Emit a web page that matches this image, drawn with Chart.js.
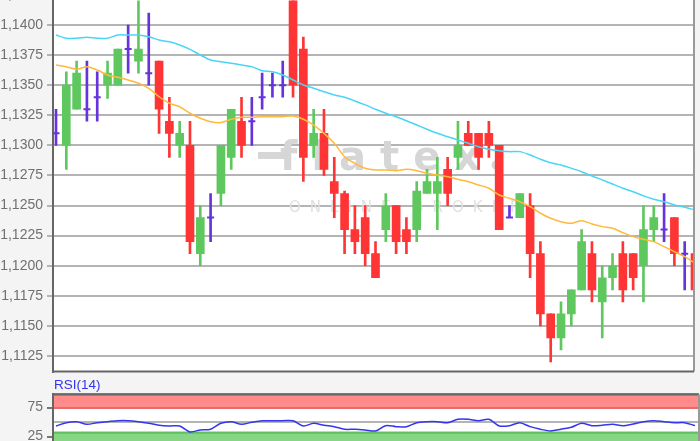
<!DOCTYPE html>
<html>
<head>
<meta charset="utf-8">
<script src="https://cdn.jsdelivr.net/npm/chart.js@4.4.1/dist/chart.umd.min.js"></script>
<style>
  html, body { margin: 0; padding: 0; }
  body { width: 700px; height: 441px; overflow: hidden; position: relative; background: #f4f4f4; font-family: "Liberation Sans", Arial, sans-serif; }
  #mainBox { position: absolute; left: 0; top: -40px; width: 700px; height: 424px; }
  #rsiBox { position: absolute; left: 0; top: 382px; width: 700px; height: 120px; }
  #rsiLabel { position: absolute; left: 54px; top: 377px; font-size: 13.5px; color: #3434ee; line-height: 16px; }
</style>
</head>
<body>
<div id="mainBox"><canvas id="mainChart"></canvas></div>
<div id="rsiLabel">RSI(14)</div>
<div id="rsiBox"><canvas id="rsiChart"></canvas></div>
<script>
// candles, oldest first
const opens  = [1.1310,1.1300,1.1330,1.1330,1.1340,1.1350,1.1350,1.1380,1.1370,1.1360,
                1.1370,1.1320,1.1300,1.1300,1.1210,1.1240,1.1260,1.1290,1.1320,1.1320,
                1.1340,1.1350,1.1350,1.1420,1.1380,1.1300,1.1310,1.1270,1.1260,1.1230,
                1.1240,1.1210,1.1230,1.1250,1.1230,1.1230,1.1260,1.1260,1.1280,1.1290,
                1.1310,1.1310,1.1310,1.1300,1.1240,1.1240,1.1250,1.1210,1.1160,1.1140,
                1.1160,1.1180,1.1210,1.1170,1.1190,1.1210,1.1210,1.1200,1.1230,1.1230,
                1.1240,1.1210,1.1210];
const highs  = [1.1330,1.1361,1.1370,1.1370,1.1361,1.1370,1.1380,1.1400,1.1420,1.1410,
                1.1370,1.1340,1.1320,1.1320,1.1250,1.1260,1.1300,1.1330,1.1340,1.1340,
                1.1360,1.1360,1.1370,1.1420,1.1390,1.1330,1.1330,1.1290,1.1262,1.1250,
                1.1250,1.1220,1.1260,1.1250,1.1240,1.1270,1.1280,1.1290,1.1290,1.1320,
                1.1320,1.1310,1.1320,1.1300,1.1250,1.1260,1.1260,1.1220,1.1160,1.1170,
                1.1180,1.1230,1.1220,1.1200,1.1210,1.1220,1.1210,1.1250,1.1250,1.1260,
                1.1240,1.1220,1.1220];
const lows   = [1.1300,1.1280,1.1330,1.1320,1.1320,1.1339,1.1350,1.1360,1.1360,1.1350,
                1.1310,1.1290,1.1290,1.1210,1.1200,1.1220,1.1250,1.1280,1.1290,1.1300,
                1.1330,1.1340,1.1340,1.1340,1.1270,1.1290,1.1275,1.1240,1.1210,1.1210,
                1.1200,1.1190,1.1220,1.1210,1.1210,1.1220,1.1260,1.1230,1.1250,1.1280,
                1.1300,1.1280,1.1290,1.1230,1.1240,1.1240,1.1190,1.1150,1.1120,1.1130,
                1.1150,1.1180,1.1170,1.1140,1.1180,1.1170,1.1180,1.1170,1.1220,1.1220,
                1.1200,1.1180,1.1170];
const closes = [1.1310,1.1350,1.1360,1.1330,1.1340,1.1360,1.1380,1.1380,1.1380,1.1360,
                1.1330,1.1310,1.1310,1.1220,1.1240,1.1240,1.1300,1.1330,1.1300,1.1320,
                1.1340,1.1350,1.1350,1.1350,1.1290,1.1310,1.1280,1.1260,1.1230,1.1220,
                1.1210,1.1190,1.1250,1.1220,1.1220,1.1262,1.1270,1.1270,1.1260,1.1300,
                1.1300,1.1290,1.1300,1.1230,1.1240,1.1260,1.1210,1.1160,1.1140,1.1160,
                1.1180,1.1220,1.1180,1.1190,1.1200,1.1180,1.1190,1.1230,1.1240,1.1230,
                1.1210,1.1210,1.1180];

// moving averages (cyan = slow, orange = fast)
const maSlow = [1.13917,1.13890,1.13890,1.13898,1.13890,1.13890,1.13917,1.13917,1.13917,1.13903,
                1.13875,1.13861,1.13834,1.13798,1.13751,1.13709,1.13695,1.13682,1.13668,1.13654,
                1.13620,1.13612,1.13585,1.13543,1.13502,1.13474,1.13446,1.13419,1.13399,1.13369,
                1.13336,1.13300,1.13267,1.13238,1.13205,1.13169,1.13134,1.13100,1.13072,1.13045,
                1.13017,1.12989,1.12968,1.12956,1.12948,1.12948,1.12920,1.12885,1.12856,1.12837,
                1.12810,1.12781,1.12746,1.12713,1.12679,1.12644,1.12615,1.12580,1.12552,1.12532,
                1.12505,1.12486,1.12463];
const maFast = [1.13668,1.13654,1.13632,1.13654,1.13626,1.13585,1.13566,1.13543,1.13516,1.13474,
                1.13404,1.13350,1.13321,1.13267,1.13225,1.13197,1.13189,1.13217,1.13233,1.13233,
                1.13238,1.13238,1.13238,1.13244,1.13217,1.13169,1.13100,1.13017,1.12906,1.12851,
                1.12810,1.12796,1.12796,1.12790,1.12801,1.12790,1.12768,1.12754,1.12740,1.12718,
                1.12698,1.12671,1.12644,1.12588,1.12560,1.12532,1.12491,1.12436,1.12394,1.12366,
                1.12353,1.12374,1.12347,1.12325,1.12311,1.12275,1.12242,1.12220,1.12200,1.12159,
                1.12117,1.12075,1.12021];

const rsiValues = [43.2,48.8,50.5,46.1,48.8,50.5,52.2,52.2,50.5,47.8,
                   44.4,43.2,43.2,32.9,36.3,37.5,47.8,50.5,46.1,49.5,
                   52.2,52.2,52.2,52.2,43.2,47.8,44.4,42.0,37.5,37.5,
                   36.3,34.6,43.7,42.0,42.0,48.8,50.5,50.5,48.8,54.6,
                   54.6,52.2,54.6,43.2,43.7,48.8,42.0,37.5,34.6,37.5,
                   41.0,47.8,43.7,44.4,46.1,43.7,46.6,50.5,52.2,50.5,
                   48.8,48.8,43.7];

const priceStep = 0.0025;
const rsiTicks = [25, 50, 75];
const rsiUpperBand = [72.4, 100];
const rsiLowerBand = [0, 33.3];

const UP = '#5ec85e', DOWN = '#ff3535', FLAT = '#6633dd';
const GRID = '#b4b4b4', AXIS = '#666666';
const FONT = { family: '"Liberation Sans", Arial, sans-serif', size: 14 };

function candleColor(i) {
  if (opens[i] === closes[i]) return FLAT;
  return closes[i] > opens[i] ? UP : DOWN;
}

const idx = opens.map((_, i) => i);
const wickData = idx.map(i => ({ x: i, y: [lows[i], highs[i]] }));
const bodyData = idx.filter(i => opens[i] !== closes[i]).map(i => ({ x: i, y: [opens[i], closes[i]] }));
const dojiData = idx.filter(i => opens[i] === closes[i]).map(i => ({ x: i, y: opens[i] }));

// white plot area, watermark, frame lines
const mainPanel = {
  id: 'mainPanel',
  beforeDraw(chart) {
    const { ctx, chartArea: a } = chart;
    ctx.save();
    ctx.fillStyle = '#ffffff';
    ctx.fillRect(a.left, a.top, a.right - a.left, a.bottom - a.top);
    ctx.restore();
  },
  beforeDatasetsDraw(chart) {
    const { ctx } = chart;
    const oy = 40; // canvas is shifted 40px up
    ctx.save();
    ctx.fillStyle = '#d6d6d6';
    ctx.font = 'bold 40px "DejaVu Sans"';
    ctx.letterSpacing = '14px';
    ctx.textBaseline = 'alphabetic';
    ctx.fillText('flatex', 280, 170 + oy);
    ctx.fillRect(258, 152 + oy, 28, 7);
    ctx.beginPath();
    ctx.arc(496, 165 + oy, 4.5, 0, Math.PI * 2);
    ctx.fill();
    ctx.fillStyle = '#e0e0e0';
    ctx.font = '15px "DejaVu Sans"';
    ctx.letterSpacing = '9px';
    ctx.fillText('ONLINE BROKER', 289, 212 + oy);
    ctx.restore();
  },
  afterDraw(chart) {
    const { ctx, chartArea: a } = chart;
    ctx.save();
    ctx.strokeStyle = '#999999';
    ctx.lineWidth = 2;
    ctx.beginPath();
    ctx.moveTo(a.right, a.top); ctx.lineTo(a.right, a.bottom);
    ctx.stroke();
    ctx.strokeStyle = AXIS;
    ctx.beginPath();
    ctx.moveTo(a.left - 1, a.bottom); ctx.lineTo(a.right, a.bottom);
    ctx.stroke();
    ctx.restore();
  }
};

const rsiPanel = {
  id: 'rsiPanel',
  beforeDraw(chart) {
    const { ctx, chartArea: a } = chart;
    ctx.save();
    ctx.fillStyle = '#ffffff';
    ctx.fillRect(a.left, a.top, a.right - a.left, a.bottom - a.top);
    ctx.restore();
  },
  beforeDatasetsDraw(chart) {
    const { ctx, chartArea: a, scales: { y } } = chart;
    const band = (range, fill, edge) => {
      const top = y.getPixelForValue(range[1]);
      const bot = y.getPixelForValue(range[0]);
      ctx.fillStyle = fill;
      ctx.fillRect(a.left + 1, top, a.right - a.left - 1, bot - top);
      ctx.fillStyle = edge;
      ctx.fillRect(a.left + 1, top, a.right - a.left - 1, 2);
      ctx.fillRect(a.left + 1, bot - 2, a.right - a.left - 1, 2);
    };
    ctx.save();
    band(rsiUpperBand, '#ff8b8b', '#e66c6c');
    band(rsiLowerBand, '#86d686', '#5fbf5f');
    ctx.restore();
  },
  afterDraw(chart) {
    const { ctx, chartArea: a } = chart;
    ctx.save();
    ctx.strokeStyle = AXIS;
    ctx.lineWidth = 2;
    ctx.beginPath();
    ctx.moveTo(a.left - 1, a.top); ctx.lineTo(a.right, a.top);
    ctx.stroke();
    ctx.strokeStyle = '#999999';
    ctx.beginPath();
    ctx.moveTo(a.right, a.top); ctx.lineTo(a.right, a.bottom);
    ctx.stroke();
    ctx.restore();
  }
};

const mainChart = new Chart(document.getElementById('mainChart'), {
  type: 'bar',
  data: {
    datasets: [
      { type: 'line', data: maSlow.map((v, i) => ({ x: i, y: v })), borderColor: '#48d6f6', borderWidth: 1.5, pointRadius: 0, tension: 0.3, order: 0 },
      { type: 'line', data: maFast.map((v, i) => ({ x: i, y: v })), borderColor: '#ffb93c', borderWidth: 1.5, pointRadius: 0, tension: 0.3, order: 0 },
      { type: 'line', data: dojiData, showLine: false, pointStyle: 'line', pointRadius: 3.5, pointBorderWidth: 2, borderColor: FLAT, order: 1 },
      { type: 'bar', data: bodyData, backgroundColor: c => candleColor(c.raw ? c.raw.x : 0), barThickness: 8, grouped: false, order: 2 },
      { type: 'bar', data: wickData, backgroundColor: c => candleColor(c.raw ? c.raw.x : 0), barThickness: 2, grouped: false, order: 3 }
    ]
  },
  options: {
    responsive: true,
    maintainAspectRatio: false,
    animation: false,
    events: [],
    layout: { padding: { top: 10, bottom: 10, left: 0, right: 1 } },
    plugins: { legend: { display: false }, tooltip: { enabled: false } },
    scales: {
      x: { type: 'linear', display: false, offset: false, min: -0.3, max: 62.4 },
      y: {
        position: 'left',
        min: 1.1109, max: 1.1445,
        afterFit(s) { s.width = 53; },
        ticks: { stepSize: priceStep, includeBounds: false, color: '#707070', font: FONT, padding: 4,
                 callback: v => v.toFixed(4).replace('.', ',') },
        grid: { color: GRID, lineWidth: 2, tickLength: 6 },
        border: { display: true, color: AXIS, width: 2 }
      }
    }
  },
  plugins: [mainPanel]
});

const rsiChart = new Chart(document.getElementById('rsiChart'), {
  type: 'line',
  data: {
    datasets: [
      { data: rsiValues.map((v, i) => ({ x: i, y: v })), borderColor: '#3535f0', borderWidth: 1.5, pointRadius: 0, tension: 0.3 }
    ]
  },
  options: {
    responsive: true,
    maintainAspectRatio: false,
    animation: false,
    events: [],
    layout: { padding: { top: 10, bottom: 0, left: 0, right: 1 } },
    plugins: { legend: { display: false }, tooltip: { enabled: false } },
    scales: {
      x: { type: 'linear', display: false, offset: false, min: -0.3, max: 62.4 },
      y: {
        position: 'left',
        min: 0, max: 101,
        afterFit(s) { s.width = 53; },
        afterBuildTicks(s) { s.ticks = rsiTicks.map(v => ({ value: v })); },
        ticks: { color: '#707070', font: FONT, padding: 4, callback: v => (v === 50 ? '' : String(v)) },
        grid: {
          color: c => (c.tick && c.tick.value === 50 ? GRID : 'rgba(0,0,0,0)'),
          tickColor: c => (c.tick && c.tick.value === 50 ? 'rgba(0,0,0,0)' : '#777777'),
          lineWidth: 2, tickLength: 6
        },
        border: { display: true, color: AXIS, width: 2 }
      }
    }
  },
  plugins: [rsiPanel]
});

// line the scales up with the reference grid (page pixels)
function fitScales(chart, boxTop, v1, p1, v2, p2) {
  const a = chart.chartArea;
  const xk = 62 / (695 - 56);
  chart.options.scales.x.min = -(56 - a.left) * xk;
  chart.options.scales.x.max = 62 + (a.right - 695) * xk;
  const yk = (v1 - v2) / (p2 - p1);
  chart.options.scales.y.max = v1 + (p1 - (boxTop + a.top)) * yk;
  chart.options.scales.y.min = v2 - (boxTop + a.bottom - p2) * yk;
  chart.update('none');
}
fitScales(mainChart, -40, 1.1400, 25, 1.1125, 356);
fitScales(rsiChart, 382, 75, 407.5, 25, 436.5);
</script>
</body>
</html>
